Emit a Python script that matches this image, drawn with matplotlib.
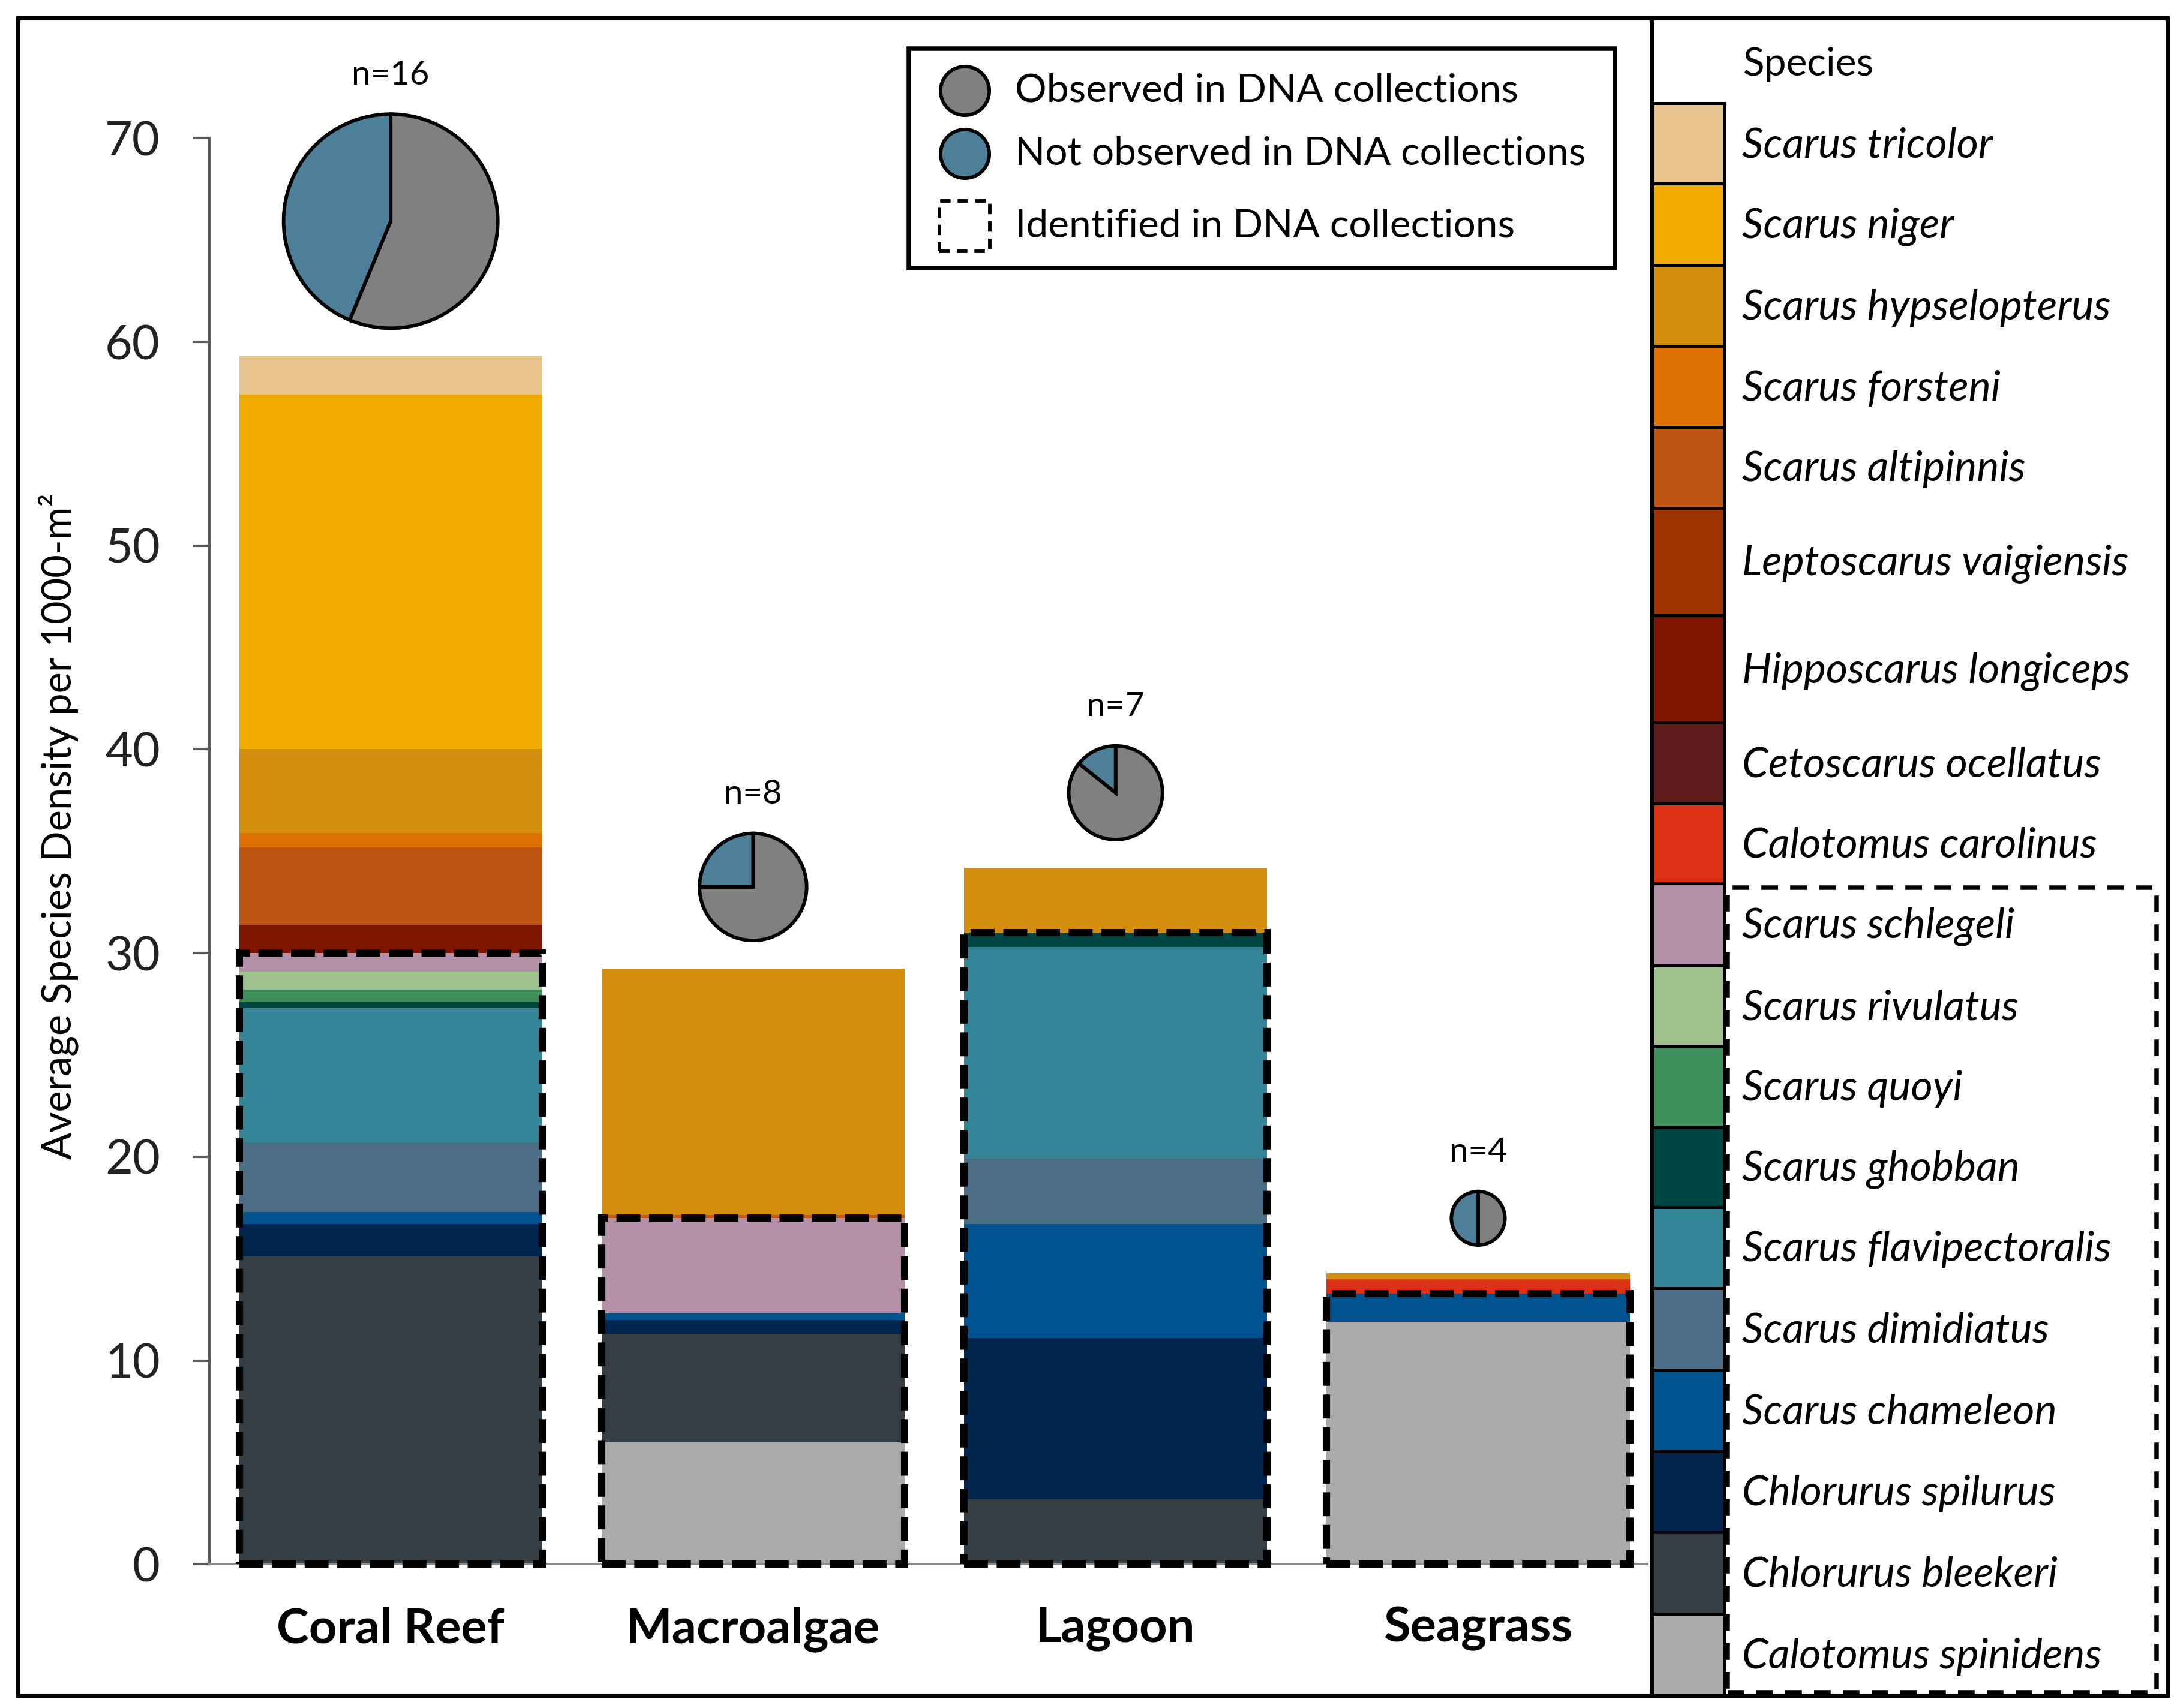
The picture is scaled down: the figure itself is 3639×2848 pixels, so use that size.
import matplotlib.pyplot as plt
import matplotlib.patches as mpatches
import matplotlib.transforms as mtransforms
from matplotlib.lines import Line2D
import numpy as np

plt.rcParams["font.family"] = ["Lato", "DejaVu Sans"]

# data
habitats = ["Coral Reef", "Macroalgae", "Lagoon", "Seagrass"]

# species in legend order (top to bottom); bars are stacked from the bottom of this list up
species = [
    "Scarus tricolor", "Scarus niger", "Scarus hypselopterus", "Scarus forsteni",
    "Scarus altipinnis", "Leptoscarus vaigiensis", "Hipposcarus longiceps",
    "Cetoscarus ocellatus", "Calotomus carolinus", "Scarus schlegeli",
    "Scarus rivulatus", "Scarus quoyi", "Scarus ghobban", "Scarus flavipectoralis",
    "Scarus dimidiatus", "Scarus chameleon", "Chlorurus spilurus",
    "Chlorurus bleekeri", "Calotomus spinidens",
]
species_colors = [
    "#E8C38D", "#F0AA00", "#D38E0E", "#DD7000",
    "#BE5512", "#9E3500", "#7E1500",
    "#5E1C1C", "#DD3014", "#B38FA8",
    "#A0C28E", "#3E8F5A", "#004643", "#338597",
    "#4C6D86", "#00538E", "#00264F",
    "#343E44", "#AAAAAA",
]
# identified in DNA collections (dashed box)
identified = [False] * 9 + [True] * 10

# average density per 1000 m2, same order as species
coral_reef = [1.9, 17.4, 4.1, 0.7, 3.8, 0.0, 1.4, 0.0, 0.0, 0.9,
              0.9, 0.6, 0.3, 6.6, 3.4, 0.6, 1.6, 15.1, 0.0]
macroalgae = [0.0, 0.0, 12.1, 0.0, 0.15, 0.0, 0.0, 0.0, 0.0, 4.7,
              0.0, 0.0, 0.0, 0.0, 0.0, 0.3, 0.7, 5.3, 6.0]
lagoon = [0.0, 0.0, 3.2, 0.0, 0.0, 0.0, 0.0, 0.0, 0.0, 0.0,
          0.0, 0.0, 0.7, 10.4, 3.2, 5.6, 7.9, 3.2, 0.0]
seagrass = [0.0, 0.0, 0.3, 0.0, 0.0, 0.0, 0.0, 0.0, 0.7, 0.0,
            0.0, 0.0, 0.0, 0.0, 0.0, 1.4, 0.0, 0.0, 11.9]

# pies
n_samples = [16, 8, 7, 4]
n_observed = [9, 6, 6, 2]

obs_color = "#808080"
notobs_color = "#4D7F98"

# layout helpers (positions measured on a 1564 x 1224 copy of the figure)
W, H = 1564.0, 1224.0


def fx(x):
    return x / W


def fy(y):
    return 1 - y / H


fig = plt.figure(figsize=(3639 / 300, 2848 / 300), dpi=300)
ax = fig.add_axes([fx(150), fy(1121), fx(1180) - fx(150), fy(99) - fy(1121)])

values = np.array([coral_reef, macroalgae, lagoon, seagrass])
x = np.arange(len(habitats))
width = 0.836

bottom = np.zeros(len(habitats))
for i in reversed(range(len(species))):
    ax.bar(x, values[:, i], width, bottom=bottom, color=species_colors[i], linewidth=0, zorder=2)
    bottom += values[:, i]

# dashed boxes round the identified species
ident_total = values[:, np.array(identified)].sum(axis=1)
for xi, h in zip(x, ident_total):
    ax.add_patch(mpatches.Rectangle((xi - width / 2, 0), width, h, fill=False, ec="black",
                                    lw=2.9, ls=(0, (3.3, 1.2)), zorder=5, clip_on=False))

# pies above the bars, radius proportional to n
totals = values.sum(axis=1)
gap = 0.155  # inches
for xi, top, n, obs in zip(x, totals, n_samples, n_observed):
    r = 0.0372 * n
    trans = fig.dpi_scale_trans + mtransforms.ScaledTranslation(xi, top, ax.transData)
    cy = gap + r
    frac = obs / n
    kw = {"transform": trans, "ec": "black", "lw": 1.4, "clip_on": False, "zorder": 6}
    ax.add_patch(mpatches.Wedge((0, cy), r, 90 - 360 * frac, 90, fc=obs_color, **kw))
    ax.add_patch(mpatches.Wedge((0, cy), r, 90, 450 - 360 * frac, fc=notobs_color, **kw))
    ax.text(0, cy + r + 0.217, f"n={n}", transform=trans, ha="center", va="center",
            fontsize=13.5, clip_on=False)

ax.set_xlim(-0.5, 3.466)
ax.set_ylim(0, 70)
ax.set_yticks(range(0, 71, 10))
ax.set_xticks(x, habitats, fontweight="bold", fontsize=19.5)
ax.tick_params(axis="x", length=0, pad=17)
ax.tick_params(axis="y", length=6.7, width=1, color="#595959", pad=13, labelsize=19,
               labelcolor="#222222")
for s in ["top", "right"]:
    ax.spines[s].set_visible(False)
ax.spines["left"].set_color("#595959")
ax.spines["bottom"].set_color("#8c8c8c")
ax.spines["left"].set_linewidth(1)
ax.spines["bottom"].set_linewidth(1)

fig.text(fx(42), fy(592), "Average Species Density per 1000-m²", rotation=90,
         ha="center", va="center", fontsize=16)

# outer frame and panel divider
fig.add_artist(mpatches.Rectangle((fx(13), fy(1215)), fx(1553) - fx(13), fy(13) - fy(1215),
                                  transform=fig.transFigure, fill=False, ec="black", lw=1.7))
fig.add_artist(Line2D([fx(1183), fx(1183)], [fy(13), fy(1215)], transform=fig.transFigure,
                      color="black", lw=1.7))

# top legend
fig.add_artist(mpatches.Rectangle((fx(651), fy(192)), fx(1157) - fx(651), fy(35) - fy(192),
                                  transform=fig.transFigure, fill=False, ec="black", lw=1.8))
for yy, c in [(65, obs_color), (110, notobs_color)]:
    fig.add_artist(Line2D([fx(691)], [fy(yy)], marker="o", ms=19.5, mfc=c, mec="black",
                          mew=1.4, transform=fig.transFigure))
fig.add_artist(mpatches.Rectangle((fx(673), fy(180)), fx(709) - fx(673), fy(144) - fy(180),
                                  transform=fig.transFigure, fill=False, ec="black", lw=1.4,
                                  ls=(0, (3, 2))))
for yy, t in [(65, "Observed in DNA collections"), (110, "Not observed in DNA collections"),
              (162, "Identified in DNA collections")]:
    fig.text(fx(727), fy(yy), t, ha="left", va="center", fontsize=15.8)

# species legend panel
rows = [74, 131.5, 190, 248, 306, 364, 441, 518, 576, 633, 692, 749.5, 808, 865, 923,
        981.5, 1040, 1098, 1156.5, 1215]
fig.text(fx(1249), fy(46), "Species", ha="left", va="center", fontsize=15.8)
for i, (name, c) in enumerate(zip(species, species_colors)):
    y0, y1 = rows[i], rows[i + 1]
    fig.add_artist(mpatches.Rectangle((fx(1183), fy(y1)), fx(1235) - fx(1183), fy(y0) - fy(y1),
                                      transform=fig.transFigure, fc=c, ec="black", lw=1.2))
    fig.text(fx(1248), fy((y0 + y1) / 2 + 1.5), name, ha="left", va="center", fontsize=16.8,
             style="italic")
fig.add_artist(mpatches.Rectangle((fx(1238), fy(1213)), fx(1545) - fx(1238), fy(636) - fy(1213),
                                  transform=fig.transFigure, fill=False, ec="black", lw=1.8,
                                  ls=(0, (3.7, 2.7))))

fig.savefig("out.png", dpi=300, facecolor="white")
